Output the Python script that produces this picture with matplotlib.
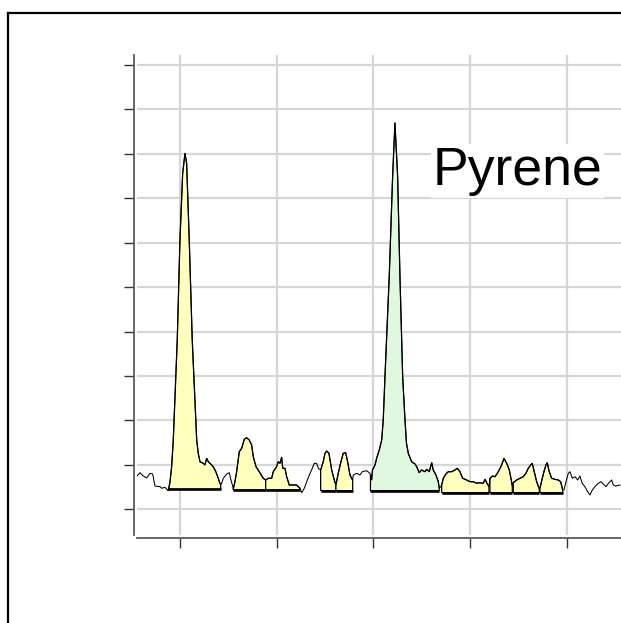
import numpy as np
import matplotlib
matplotlib.use("Agg")
import matplotlib.pyplot as plt
from matplotlib.lines import Line2D

# Detector trace (retention-time units, response units)
trace_x = [0.556, 0.587, 0.621, 0.656, 0.690, 0.718, 0.742, 0.793, 0.811, 0.845,
           0.879, 0.897, 0.914, 0.931, 0.972, 1.000, 1.028, 1.052, 1.069, 1.096,
           1.127, 1.173, 1.189, 1.207, 1.241, 1.258, 1.276, 1.295, 1.310, 1.344,
           1.372, 1.396, 1.413, 1.429, 1.448, 1.483, 1.510, 1.527, 1.545, 1.551,
           1.568, 1.586, 1.613, 1.638, 1.665, 1.689, 1.716, 1.741, 1.758, 1.786,
           1.820, 1.861, 1.886, 1.913, 1.948, 1.964, 1.999, 2.016, 2.034, 2.051,
           2.062, 2.085, 2.103, 2.130, 2.171, 2.206, 2.240, 2.258, 2.285, 2.310,
           2.344, 2.361, 2.388, 2.413, 2.430, 2.454, 2.481, 2.499, 2.516, 2.540,
           2.568, 2.595, 2.612, 2.636, 2.664, 2.688, 2.713, 2.733, 2.757, 2.785,
           2.791, 2.826, 2.860, 2.884, 2.930, 2.964, 2.981, 2.990, 3.016, 3.033,
           3.060, 3.085, 3.101, 3.119, 3.163, 3.198, 3.222, 3.250, 3.274, 3.302,
           3.326, 3.341, 3.360, 3.395, 3.429, 3.447, 3.473, 3.498, 3.532, 3.550,
           3.577, 3.602, 3.618, 3.646, 3.670, 3.680, 3.695, 3.705, 3.722, 3.749,
           3.773, 3.808, 3.842, 3.866, 3.894, 3.922, 3.963, 3.997, 4.032, 4.067,
           4.101, 4.135, 4.153, 4.170, 4.194, 4.204, 4.232, 4.256, 4.280, 4.300,
           4.325, 4.349, 4.377, 4.404, 4.428, 4.435, 4.445, 4.480, 4.514, 4.548,
           4.576, 4.600, 4.625, 4.641, 4.662, 4.687, 4.714, 4.721, 4.745, 4.762,
           4.783, 4.796, 4.817, 4.842, 4.876, 4.910, 4.935, 4.956, 4.969, 4.990,
           5.014, 5.031, 5.055, 5.083, 5.111, 5.134, 5.158, 5.186, 5.214, 5.238,
           5.262, 5.289, 5.324, 5.352, 5.375, 5.403, 5.434, 5.462, 5.479, 5.503,
           5.548]
trace_y = [0.750, 0.824, 0.750, 0.705, 0.810, 0.795, 0.524, 0.509, 0.473, 0.495,
           0.419, 0.615, 0.959, 1.560, 3.811, 6.062, 7.563, 8.014, 7.788, 6.062,
           3.811, 1.560, 1.261, 1.071, 1.035, 0.997, 1.148, 1.065, 1.035, 0.959,
           0.840, 0.698, 0.585, 0.570, 0.698, 0.795, 0.824, 0.660, 0.524, 0.450,
           0.621, 0.846, 1.297, 1.373, 1.576, 1.612, 1.560, 1.447, 1.184, 0.959,
           0.846, 0.698, 0.660, 0.698, 0.698, 0.846, 0.959, 1.071, 1.035, 1.171,
           0.923, 0.923, 0.734, 0.547, 0.547, 0.547, 0.473, 0.374, 0.473, 0.621,
           0.810, 0.885, 1.035, 1.035, 0.923, 0.885, 1.071, 1.261, 1.312, 1.261,
           0.885, 0.660, 0.547, 0.810, 1.071, 1.261, 1.274, 1.071, 0.772, 0.660,
           0.772, 0.810, 0.772, 0.846, 0.869, 0.810, 0.660, 0.885, 0.997, 1.148,
           1.335, 1.560, 2.010, 2.985, 5.236, 7.487, 8.702, 7.487, 5.236, 2.985,
           2.010, 1.492, 1.261, 1.071, 1.020, 0.959, 0.824, 0.885, 0.846, 0.900,
           0.846, 1.049, 0.885, 0.772, 0.621, 0.479, 0.509, 0.547, 0.698, 0.795,
           0.846, 0.846, 0.885, 0.923, 0.846, 0.698, 0.660, 0.621, 0.621, 0.585,
           0.599, 0.585, 0.675, 0.599, 0.509, 0.698, 0.750, 0.734, 0.810, 0.885,
           0.997, 1.148, 1.035, 0.885, 0.621, 0.524, 0.599, 0.660, 0.698, 0.734,
           0.810, 0.923, 0.997, 1.035, 0.846, 0.621, 0.457, 0.479, 0.698, 0.846,
           0.997, 1.049, 0.846, 0.698, 0.675, 0.660, 0.621, 0.434, 0.434, 0.621,
           0.810, 0.846, 0.698, 0.734, 0.660, 0.750, 0.585, 0.509, 0.396, 0.322,
           0.434, 0.509, 0.585, 0.621, 0.570, 0.509, 0.599, 0.660, 0.547, 0.524,
           0.547]

# Integration windows: start, end, baseline level, compound flag
peak_start = [0.879, 1.551, 1.886, 2.454, 2.612, 2.969, 3.705, 4.204, 4.445, 4.721]
peak_end = [1.421, 1.886, 2.240, 2.612, 2.785, 3.680, 4.194, 4.435, 4.714, 4.956]
peak_base = [0.450, 0.434, 0.434, 0.419, 0.419, 0.419, 0.374, 0.374, 0.374, 0.374]
peak_is_target = [False, False, False, False, False, True, False, False, False, False]
compound = "Pyrene"

x_ticks = [1, 2, 3, 4, 5]
y_ticks = [0, 1, 2, 3, 4, 5, 6, 7, 8, 9, 10]

W, H = 621, 623
fig = plt.figure(figsize=(W / 100, H / 100), dpi=100)

ax_left, ax_right, ax_top, ax_bottom = 137, 640, 55, 535
ax = fig.add_axes([ax_left / W, 1 - ax_bottom / H,
                   (ax_right - ax_left) / W, (ax_bottom - ax_top) / H])
ax.set_xlim(0.556, 5.755)
ax.set_ylim(-0.5785, 10.226)

tx = np.array(trace_x)
ty = np.array(trace_y)

yellow = "#ffffbe"
green = "#dff8df"
for s, e, b, tgt in zip(peak_start, peak_end, peak_base, peak_is_target):
    inside = (tx > s) & (tx < e)
    xs = np.concatenate([[s, s], tx[inside], [e, e]])
    ys = np.concatenate([[b, np.interp(s, tx, ty)], ty[inside],
                         [np.interp(e, tx, ty), b]])
    ax.fill(xs, ys, facecolor=green if tgt else yellow, edgecolor="black",
            linewidth=0.9, zorder=2)
    ax.plot([s, e], [b, b], color="black", linewidth=1.9,
            solid_capstyle="butt", zorder=3)

ax.plot(tx, ty, color="black", linewidth=0.75, zorder=4)

ax.set_xticks(x_ticks)
ax.set_yticks(y_ticks)
ax.set_xticklabels([])
ax.set_yticklabels([])
ax.grid(True, color="#d6d6d6", linewidth=1.6, zorder=0)
ax.set_axisbelow(True)

for side in ("top", "right"):
    ax.spines[side].set_visible(False)
for side in ("left", "bottom"):
    ax.spines[side].set_position(("outward", 2.3))
    ax.spines[side].set_color("#5a5a5a")
    ax.spines[side].set_linewidth(1.3)
ax.tick_params(axis="both", length=7, width=1.0, color="#333333")

fig.text(433 / W, 1 - 185 / H, compound, fontsize=38.5, family="Liberation Sans",
         ha="left", va="baseline",
         bbox=dict(facecolor="white", edgecolor="none", pad=1.0), zorder=10)

# Outer frame
fy = 1 - 12.7 / H
fx = 8 / W
fig.add_artist(Line2D([fx, fx], [fy, -0.01], color="black", linewidth=1.6,
                      transform=fig.transFigure))
fig.add_artist(Line2D([fx, 1.01], [fy, fy], color="black", linewidth=1.6,
                      transform=fig.transFigure))

fig.savefig("out.png", dpi=100)
